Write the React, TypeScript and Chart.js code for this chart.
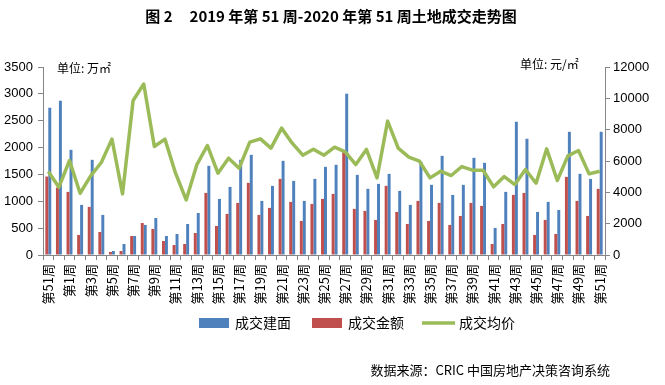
import React, { useEffect, useRef } from "react";
import { Chart, registerables } from "chart.js";

Chart.register(...registerables);

const CATEGORIES: string[] = [
  "第51周", "第52周",
  "第1周", "第2周", "第3周", "第4周", "第5周", "第6周", "第7周", "第8周", "第9周", "第10周",
  "第11周", "第12周", "第13周", "第14周", "第15周", "第16周", "第17周", "第18周", "第19周", "第20周",
  "第21周", "第22周", "第23周", "第24周", "第25周", "第26周", "第27周", "第28周", "第29周", "第30周",
  "第31周", "第32周", "第33周", "第34周", "第35周", "第36周", "第37周", "第38周", "第39周", "第40周",
  "第41周", "第42周", "第43周", "第44周", "第45周", "第46周", "第47周", "第48周", "第49周", "第50周",
  "第51周",
];

// 成交建面 (万㎡)
const AREA: number[] = [
  2742, 2872, 1958, 933, 1772, 746, 75, 205, 354, 560,
  689, 354, 391, 577, 782, 1660, 1044, 1268, 1772, 1865,
  1007, 1287, 1753, 1380, 1007, 1417, 1641, 1679, 3003, 1492,
  1231, 1324, 1511, 1194, 933, 1735, 1306, 1846, 1119, 1306,
  1809, 1716, 504, 1175, 2481, 2164, 802, 989, 839, 2294,
  1511, 1417, 2294,
];

// 成交金额 (亿元)
const AMOUNT: number[] = [
  1461, 1256, 1175, 373, 895, 429, 56, 75, 354, 596,
  484, 261, 186, 205, 410, 1156, 541, 765, 970, 1343,
  746, 877, 1417, 989, 634, 951, 1044, 1138, 1958, 858,
  821, 653, 1287, 802, 578, 1007, 634, 970, 560, 727,
  970, 914, 205, 578, 1119, 1156, 373, 653, 392, 1455,
  1007, 727, 1231,
];

// 成交均价 (元/㎡)
const PRICE: number[] = [
  5327, 4326, 6031, 3942, 5050, 5903, 7395, 3900, 9866, 10911,
  6926, 7395, 5221, 3516, 5750, 6990, 5221, 6180, 5541, 7203,
  7416, 6819, 8098, 7139, 6372, 6755, 6372, 6883, 6585, 5775,
  6740, 4923, 8545, 6819, 6244, 5988, 4923, 5349, 5072, 5647,
  5413, 5413, 4350, 5008, 4496, 5455, 4582, 6777, 4752, 6329,
  6670, 5178, 5349,
];

const SERIES_NAMES = ["成交建面", "成交金额", "成交均价"];
const TITLE = "图 2     2019 年第 51 周-2020 年第 51 周土地成交走势图";
const LEFT_UNIT = "单位: 万㎡";
const RIGHT_UNIT = "单位: 元/㎡";
const SOURCE = "数据来源：CRIC 中国房地产决策咨询系统";

const BLUE = "#4F81BD";
const RED = "#C0504D";
const GREEN = "#9BBB59";
const AXIS = "#868686";
const CJK = '"Noto Sans CJK SC", "Noto Sans", sans-serif';
const NUM = '"Liberation Sans", Arial, sans-serif';

const textPlugin = {
  id: "extraTexts",
  afterDraw(chart: any) {
    const ctx = chart.ctx as CanvasRenderingContext2D;
    ctx.save();
    ctx.fillStyle = "#000";
    ctx.textBaseline = "middle";

    ctx.font = `bold 15px ${CJK}`;
    ctx.textAlign = "center";
    ctx.fillText(TITLE, 331, 16);

    ctx.font = `12px ${CJK}`;
    ctx.textAlign = "left";
    ctx.fillText(LEFT_UNIT, 57, 68);
    ctx.fillText(RIGHT_UNIT, 520, 64);

    ctx.font = `13px ${CJK}`;
    ctx.textAlign = "right";
    ctx.fillText(SOURCE, 610, 370);

    // legend
    const ds = chart.data.datasets;
    const items = [
      { x: 199, type: "box" },
      { x: 312, type: "box" },
      { x: 422, type: "line" },
    ];
    ctx.font = `14px ${CJK}`;
    ctx.textAlign = "left";
    items.forEach((it, i) => {
      const d = ds[i];
      if (it.type === "box") {
        ctx.fillStyle = d.backgroundColor as string;
        ctx.fillRect(it.x, 318, 30, 10);
      } else {
        ctx.strokeStyle = d.borderColor as string;
        ctx.lineWidth = 3.5;
        ctx.beginPath();
        ctx.moveTo(it.x, 323);
        ctx.lineTo(it.x + 33, 323);
        ctx.stroke();
      }
      ctx.fillStyle = "#000";
      ctx.fillText(d.label, it.x + (it.type === "box" ? 36 : 37), 323);
    });
    ctx.restore();
  },
};

export default function App() {
  const ref = useRef<HTMLCanvasElement | null>(null);

  useEffect(() => {
    if (!ref.current) return;
    const chart = new Chart(ref.current, {
      type: "bar",
      data: {
        labels: CATEGORIES,
        datasets: [
          {
            type: "bar",
            label: SERIES_NAMES[0],
            data: AREA,
            backgroundColor: BLUE,
            yAxisID: "y",
            order: 2,
            barPercentage: 1,
            categoryPercentage: 0.56,
          },
          {
            type: "bar",
            label: SERIES_NAMES[1],
            data: AMOUNT,
            backgroundColor: RED,
            yAxisID: "y",
            order: 1,
            barPercentage: 1,
            categoryPercentage: 0.56,
          },
          {
            type: "line",
            label: SERIES_NAMES[2],
            data: PRICE,
            borderColor: GREEN,
            backgroundColor: GREEN,
            borderWidth: 3.5,
            pointRadius: 0,
            tension: 0,
            borderJoinStyle: "round",
            yAxisID: "y1",
            order: 0,
          } as any,
        ],
      },
      options: {
        responsive: false,
        animation: false,
        layout: { padding: { top: 67, left: 0, right: 0, bottom: 0 } },
        plugins: {
          legend: { display: false },
          title: { display: false },
          tooltip: { enabled: false },
        },
        scales: {
          x: {
            grid: {
              display: true,
              drawOnChartArea: false,
              drawTicks: true,
              tickLength: 5,
              color: AXIS,
              offset: true,
            },
            border: { color: AXIS, width: 1 },
            ticks: {
              autoSkip: false,
              maxRotation: 90,
              minRotation: 90,
              padding: 4,
              color: "#000",
              font: { family: CJK, size: 13 },
              callback: (_v: any, i: number) => (i % 2 === 0 ? CATEGORIES[i] : ""),
            },
            afterFit: (s: any) => {
              s.height = 130;
            },
          },
          y: {
            position: "left",
            min: 0,
            max: 3500,
            grid: {
              display: true,
              drawOnChartArea: false,
              drawTicks: true,
              tickLength: 5,
              color: AXIS,
            },
            border: { color: AXIS, width: 1 },
            ticks: {
              stepSize: 500,
              padding: 5,
              color: "#000",
              font: { family: NUM, size: 13 },
              callback: (v: any) => String(v),
            },
            afterFit: (s: any) => {
              s.width = 43;
            },
          },
          y1: {
            position: "right",
            min: 0,
            max: 12000,
            grid: {
              display: true,
              drawOnChartArea: false,
              drawTicks: true,
              tickLength: 5,
              color: AXIS,
            },
            border: { color: AXIS, width: 1 },
            ticks: {
              stepSize: 2000,
              padding: 3,
              color: "#000",
              font: { family: NUM, size: 13 },
              callback: (v: any) => String(v),
            },
            afterFit: (s: any) => {
              s.width = 60;
            },
          },
        },
      },
      plugins: [textPlugin],
    });
    return () => chart.destroy();
  }, []);

  return (
    <div style={{ position: "absolute", left: 0, top: 0, width: 665, height: 385, background: "#fff" }}>
      <canvas ref={ref} width={665} height={385} style={{ display: "block" }} />
    </div>
  );
}
